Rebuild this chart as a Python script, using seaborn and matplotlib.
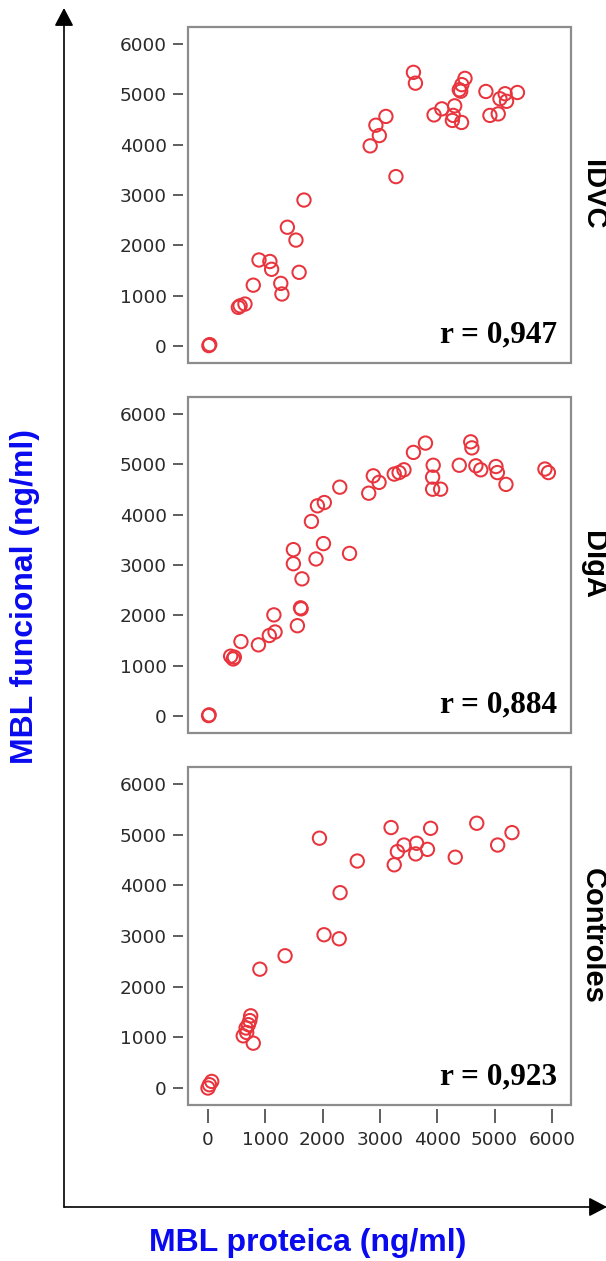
import matplotlib
matplotlib.use("Agg")
import matplotlib.pyplot as plt
import seaborn as sns
import pandas as pd
from matplotlib.patches import Rectangle, FancyArrowPatch

# ---------------- data ----------------
idvc_x = [15, 30, 530, 560, 645, 790, 890, 1080, 1110, 1270, 1290, 1385, 1535, 1590, 1675,
          2830, 2930, 2990, 3105, 3280, 3585, 3620, 3945, 4080, 4280, 4305, 4265, 4425,
          4385, 4430, 4410, 4485, 4850, 4920, 5065, 5095, 5185, 5210, 5400]
idvc_y = [10, 30, 770, 800, 835, 1210, 1710, 1680, 1525, 1245, 1035, 2360, 2105, 1465, 2900,
          3975, 4385, 4180, 4560, 3365, 5435, 5220, 4590, 4710, 4580, 4770, 4480, 4440,
          5090, 5190, 5060, 5315, 5055, 4580, 4610, 4910, 5010, 4860, 5035]

diga_x = [10, 20, 395, 440, 460, 575, 880, 1070, 1170, 1150, 1560, 1615, 1625, 1640, 1490,
          1490, 1885, 2015, 1805, 1910, 2030, 2300, 2470, 2805, 2885, 2985, 3250, 3335,
          3420, 3585, 3795, 3930, 3920, 3920, 4060, 4385, 4585, 4605, 4675, 4760, 5025,
          5050, 5200, 5880, 5940]
diga_y = [10, 25, 1190, 1135, 1170, 1480, 1415, 1600, 1670, 2010, 1795, 2150, 2130, 2725, 3305,
          3025, 3120, 3425, 3865, 4175, 4240, 4545, 3230, 4425, 4770, 4640, 4805, 4835,
          4890, 5235, 5420, 4980, 4745, 4505, 4505, 4980, 5445, 5325, 4970, 4890, 4955,
          4835, 4600, 4905, 4835]

ctrl_x = [0, 25, 65, 615, 675, 665, 705, 730, 745, 790, 905, 1345, 1945, 2025, 2290, 2305,
          2605, 3195, 3250, 3305, 3420, 3625, 3640, 3830, 3885, 4315, 4690, 5055, 5305]
ctrl_y = [0, 65, 130, 1030, 1095, 1185, 1250, 1330, 1425, 885, 2345, 2610, 4930, 3025, 2945, 3855,
          4480, 5140, 4405, 4665, 4795, 4620, 4830, 4710, 5125, 4555, 5225, 4795, 5040]

groups = ["IDVC", "DIgA", "Controles"]
r_labels = ["r = 0,947", "r = 0,884", "r = 0,923"]
ticks = [0, 1000, 2000, 3000, 4000, 5000, 6000]
tick_labels = ["0", "1000", "2000", "3000", "4000", "5000", "6000"]

df = pd.concat([
    pd.DataFrame({"x": idvc_x, "y": idvc_y, "g": "IDVC"}),
    pd.DataFrame({"x": diga_x, "y": diga_y, "g": "DIgA"}),
    pd.DataFrame({"x": ctrl_x, "y": ctrl_y, "g": "Controles"}),
], ignore_index=True)

# ---------------- figure ----------------
sns.set_theme(style="white")
plt.rcParams["font.family"] = ["DejaVu Sans"]

W, H = 606, 1261
fig = plt.figure(figsize=(W / 100, H / 100), dpi=100)
fig.patch.set_facecolor("white")

panels = [(27, 363), (397, 733), (767, 1105)]
left_px, right_px = 188, 571
red = "#e8353d"

for i, (g, (top, bot)) in enumerate(zip(groups, panels)):
    ax = fig.add_axes([left_px / W, 1 - bot / H, (right_px - left_px) / W, (bot - top) / H])
    sub = df[df["g"] == g]
    sns.scatterplot(data=sub, x="x", y="y", ax=ax, s=92, marker="o",
                    facecolor="none", edgecolor=red, linewidth=1.45, zorder=3)
    ax.set_xlim(-349, 6335)
    ax.set_ylim(-335, 6335)
    ax.set_xlabel("")
    ax.set_ylabel("")
    ax.set_facecolor("white")
    for s in ax.spines.values():
        s.set_visible(False)
    ax.spines["left"].set_position(("outward", 3.5))
    ax.spines["bottom"].set_position(("outward", 3.0))
    ax.add_patch(Rectangle((0, 0), 1, 1, transform=ax.transAxes, fill=False,
                           edgecolor="#8c8c8c", lw=1.6, clip_on=False, zorder=5))
    ax.set_yticks(ticks)
    ax.set_yticklabels(tick_labels)
    ax.tick_params(axis="y", which="major", left=True, direction="out", length=7.5,
                   width=1.1, color="#333333", pad=4.3, labelsize=13.3, labelcolor="#2a2a2a")
    if i == 2:
        ax.set_xticks(ticks)
        ax.set_xticklabels(tick_labels)
        ax.tick_params(axis="x", which="major", bottom=True, direction="out", length=10,
                       width=1.1, color="#333333", pad=6, labelsize=13.3, labelcolor="#2a2a2a")
    else:
        ax.set_xticks([])
    ax.text(0.963, 0.06, r_labels[i], transform=ax.transAxes, ha="right", va="baseline",
            fontsize=22.5, fontweight="bold", family=["Liberation Serif"], color="black")
    ax.text(1 + 22 / (right_px - left_px), 0.5, g, transform=ax.transAxes, rotation=-90,
            ha="center", va="center", fontsize=21, fontweight="bold",
            family=["Liberation Sans"], color="black")

# axis titles
fig.text(25 / W, 1 - 597 / H, "MBL funcional (ng/ml)", rotation=90, ha="center", va="center",
         fontsize=23, fontweight="bold", family=["Liberation Sans"], color="#0a0af0")
fig.text(308 / W, 1 - 1243 / H, "MBL proteica (ng/ml)", ha="center", va="center",
         fontsize=23, fontweight="bold", family=["Liberation Sans"], color="#0a0af0")

# arrows
def px(xp, yp):
    return (xp / W, 1 - yp / H)

for a, b in [((64, 1207), (64, 8)), ((64, 1207), (607, 1207))]:
    arr = FancyArrowPatch(px(*a), px(*b), transform=fig.transFigure,
                          arrowstyle="-|>,head_length=11,head_width=5.8",
                          mutation_scale=1, lw=1.2, color="black",
                          shrinkA=0, shrinkB=0)
    fig.add_artist(arr)

fig.savefig("out.png", dpi=100, facecolor="white")
